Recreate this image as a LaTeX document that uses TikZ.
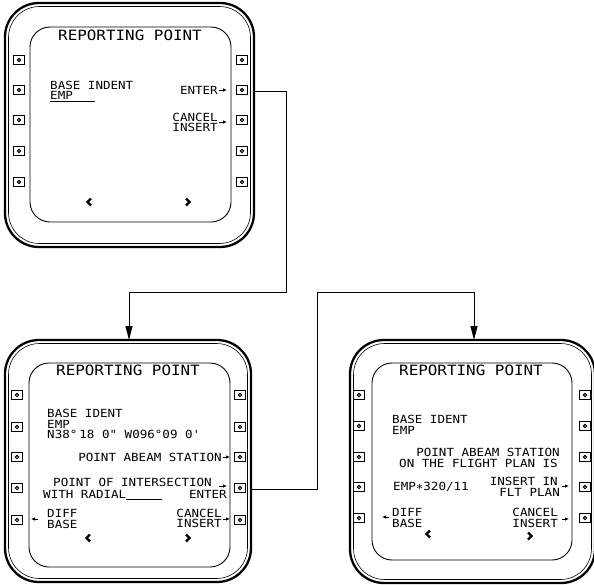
\documentclass[tikz,border=0pt]{standalone}
\usepackage{fontspec}
\newfontfamily\lblfont{DejaVu Sans Mono}[FakeStretch=1.12]
\usetikzlibrary{arrows.meta}
\tikzset{
  bezel/.style={line width=2.3pt, rounded corners=34pt},
  bezelin/.style={line width=0.6pt, rounded corners=31pt},
  screen/.style={line width=0.9pt, rounded corners=20pt},
  btn/.style={draw, line width=1.6pt, minimum width=11pt, minimum height=9pt, inner sep=0pt,
    path picture={\draw[line width=1pt] (path picture bounding box.center) circle (1.7pt);}},
  ttl/.style={font=\lblfont\fontsize{14.2}{14.2}\selectfont, inner sep=0pt},
  txt/.style={font=\lblfont\fontsize{11.2}{11.2}\selectfont, inner sep=0pt},
  tip/.style={-{Latex[length=4pt,width=3.5pt]}, line width=0.8pt},
  conn/.style={line width=1pt, -{Triangle[length=14pt,width=7pt]}},
  chev/.style={line width=2.2pt},
  uline/.style={line width=0.8pt}
}
\begin{document}
\begin{tikzpicture}[x=1pt,y=-1pt]
\useasboundingbox (0,0) rectangle (594,584);

% ---------------- top screen ----------------
\draw[bezel] (5,3) rectangle (254,247);
\draw[bezelin] (8.5,6.5) rectangle (250.5,243.5);
\draw[screen] (30,27) rectangle (231,222);
\foreach \i/\y in {1/60,2/90,3/120,4/151,5/182}{
  \node[btn] (T-l\i) at (19,\y) {};
  \node[btn] (T-r\i) at (242,\y) {};
}
\node[ttl] (T-title) at (130,35) {REPORTING POINT};
\node[txt,anchor=west] (T-base) at (50,85) {BASE INDENT};
\node[txt,anchor=west] (T-emp) at (50,95) {EMP};
\draw[uline] (50,101.5) -- (95,101.5);
\node[txt,anchor=east] (T-enter) at (218,90) {ENTER};
\draw[tip] (219,90) -- (227,90);
\node[txt,anchor=east] (T-cancel) at (218,117) {CANCEL};
\node[txt,anchor=east] (T-insert) at (218,127) {INSERT};
\draw[tip] (219,122) -- (227,122);
\draw[chev] (91,198.5) -- (87.5,202) -- (91,205.5);
\draw[chev] (186,198.5) -- (189.5,202) -- (186,205.5);

% ---------------- bottom-left screen ----------------
\draw[bezel] (5,340) rectangle (251,582);
\draw[bezelin] (8.5,343.5) rectangle (247.5,578.5);
\draw[screen] (29,363) rectangle (230,567);
\foreach \i/\y in {1/395,2/427,3/457,4/488,5/520}{
  \node[btn] (L-l\i) at (17,\y) {};
  \node[btn] (L-r\i) at (240,\y) {};
}
\node[ttl] (L-title) at (128,370) {REPORTING POINT};
\node[txt,anchor=west] (L-base) at (47,413.5) {BASE IDENT};
\node[txt,anchor=west] (L-emp) at (47,424) {EMP};
\node[txt,anchor=west] (L-coord) at (47,434.5) {N38°\kern2pt18 0" W096°09 0'};
\node[txt,anchor=east] (L-abeam) at (222,457) {POINT ABEAM STATION};
\draw[tip] (223,457) -- (230,457);
\node[txt,anchor=west] (L-poi) at (53,482.5) {POINT OF INTERSECTION};
\draw[tip] (219,486) -- (227,486);
\node[txt,anchor=west] (L-radial) at (43,494) {WITH RADIAL};
\draw[uline] (126,499.5) -- (162,499.5);
\node[txt,anchor=east] (L-enter) at (227,494.5) {ENTER};
\draw[tip] (38,519) -- (31,519);
\node[txt,anchor=west] (L-diff) at (47,513) {DIFF};
\node[txt,anchor=west] (L-dbase) at (47,524) {BASE};
\node[txt,anchor=east] (L-cancel) at (222,513) {CANCEL};
\node[txt,anchor=east] (L-insert) at (222,523.5) {INSERT};
\draw[tip] (223,519) -- (230,519);
\draw[chev] (90,534.5) -- (86.5,538) -- (90,541.5);
\draw[chev] (186,534.5) -- (189.5,538) -- (186,541.5);

% ---------------- bottom-right screen ----------------
\draw[bezel] (350,340) rectangle (595,583);
\draw[bezelin] (353.5,343.5) rectangle (591.5,579.5);
\draw[screen] (372,363) rectangle (572,560);
\foreach \i/\y in {1/395,2/426,3/457,4/487,5/518}{
  \node[btn] (R-l\i) at (359,\y) {};
  \node[btn] (R-r\i) at (585,\y) {};
}
\node[ttl] (R-title) at (471,370) {REPORTING POINT};
\node[txt,anchor=west] (R-base) at (392,419.5) {BASE IDENT};
\node[txt,anchor=west] (R-emp) at (392,430) {EMP};
\node[txt,anchor=east] (R-abeam) at (560,452) {POINT ABEAM STATION};
\node[txt,anchor=east] (R-plan) at (558,463) {ON THE FLIGHT PLAN IS};
\node[txt,anchor=west] (R-val) at (393,487) {EMP∗320/11};
\node[txt,anchor=east] (R-ins) at (558,481.5) {INSERT IN};
\node[txt,anchor=east] (R-flt) at (560,492.5) {FLT PLAN};
\draw[tip] (562,486) -- (569,486);
\draw[tip] (389,517) -- (382,517);
\node[txt,anchor=west] (R-diff) at (392,512.5) {DIFF};
\node[txt,anchor=west] (R-dbase) at (392,523.5) {BASE};
\node[txt,anchor=east] (R-cancel) at (558,512.5) {CANCEL};
\node[txt,anchor=east] (R-insert) at (558,523.5) {INSERT};
\draw[tip] (562,519) -- (569,519);
\draw[chev] (430,530.5) -- (426.5,534) -- (430,537.5);
\draw[chev] (528,532.5) -- (531.5,536) -- (528,539.5);

% ---------------- connectors ----------------
\coordinate (T-out) at (254,91);
\coordinate (L-in) at (129,340);
\coordinate (L-out) at (251,489);
\coordinate (R-in) at (474,340);
\draw[conn] (T-out) -- (286,91) -- (286,292) -| (L-in);
\draw[conn] (L-out) -| (317,292) -| (R-in);
\end{tikzpicture}
\end{document}
